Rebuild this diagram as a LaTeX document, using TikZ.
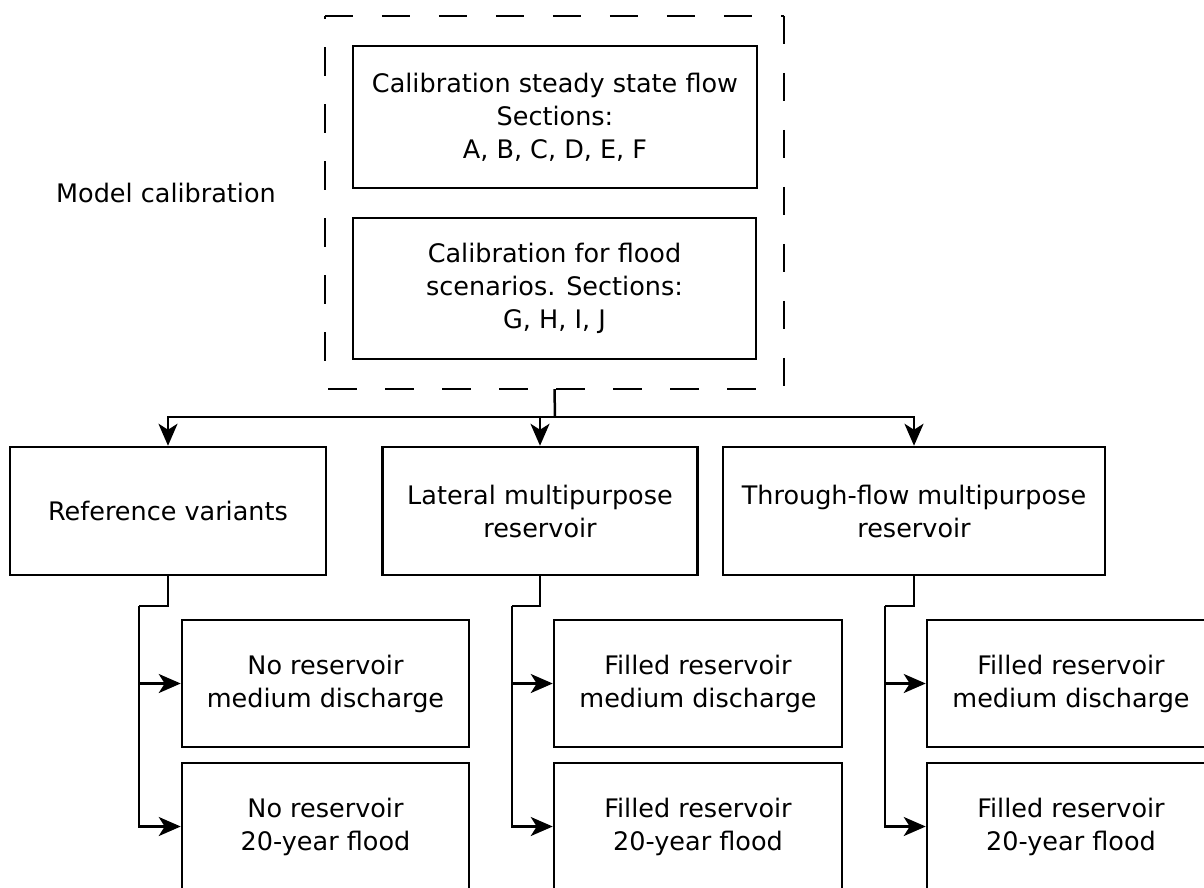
\documentclass[tikz,border=0pt]{standalone}
\usepackage{fontspec}
\setmainfont{DejaVu Sans}
\usetikzlibrary{arrows.meta,calc}
\begin{document}
\begin{tikzpicture}[x=1pt,y=-1pt,
  txt/.style={font=\fontsize{25.5}{33}\selectfont, align=center},
  box/.style={txt, draw=black, line width=2.5pt, inner sep=0pt},
  conn/.style={draw=black, line width=2.5pt},
  arr/.style={conn, -{Stealth[length=22pt,width=19pt,inset=6pt]}},
  dashline/.style={draw=black, line width=2.5pt, dash pattern=on 28.5pt off 28.5pt}
]
\useasboundingbox (0,0) rectangle (1204,887);
\clip (0,0) rectangle (1204,887);
\fill[white] (0,0) rectangle (1204,887);
% calibration group
\node[minimum width=459pt, minimum height=373pt, inner sep=0pt] (cal) at (554.5,202.5) {};
\draw[dashline] (cal.north west) -- (cal.north east);
\draw[dashline] (cal.north east) -- (cal.south east);
\draw[dashline, dash phase=28.5pt] (cal.south east) -- (cal.south west);
\draw[dashline, dash phase=28.5pt] (cal.south west) -- (cal.north west);
\node[box, minimum width=404pt, minimum height=142pt] (c1) at (555,117) {Calibration steady state flow\\Sections:\\A, B, C, D, E, F};
\node[box, minimum width=403pt, minimum height=141pt] (c2) at (554.5,288.5) {Calibration for flood\\scenarios. Sections:\\G, H, I, J};
\node[txt] (mc) at (166,193) {Model calibration};
% second row
\node[box, minimum width=316pt, minimum height=128pt] (ref) at (168,511) {Reference variants};
\node[box, minimum width=315pt, minimum height=128pt] (lat) at (540,511) {Lateral multipurpose\\reservoir};
\node[box, minimum width=382pt, minimum height=128pt] (thr) at (914,511) {Through-flow multipurpose\\reservoir};
% third row
\node[box, minimum width=287pt, minimum height=127pt] (r1) at (325.5,683.5) {No reservoir\\medium discharge};
\node[box, minimum width=287pt, minimum height=127pt] (r2) at (325.5,826.5) {No reservoir\\20-year flood};
\node[box, minimum width=288pt, minimum height=127pt] (l1) at (698,683.5) {Filled reservoir\\medium discharge};
\node[box, minimum width=288pt, minimum height=127pt] (l2) at (698,826.5) {Filled reservoir\\20-year flood};
\node[box, minimum width=288pt, minimum height=127pt] (t1) at (1071,683.5) {Filled reservoir\\medium discharge};
\node[box, minimum width=288pt, minimum height=127pt] (t2) at (1071,826.5) {Filled reservoir\\20-year flood};
% connectors
\coordinate (j) at (555,417);
\draw[conn] (cal.south) -- (j);
\draw[arr] (j) -| (ref.north);
\draw[arr] (j) -| (lat.north);
\draw[arr] (j) -| (thr.north);
\coordinate (rk) at (139,606);
\coordinate (lk) at (512,606);
\coordinate (tk) at (885,606);
\draw[conn] (ref.south) |- (rk);
\draw[conn] (lat.south) |- (lk);
\draw[conn] (thr.south) |- (tk);
\draw[arr] (rk) |- (r1.west);
\draw[arr] (rk) |- (r2.west);
\draw[arr] (lk) |- (l1.west);
\draw[arr] (lk) |- (l2.west);
\draw[arr] (tk) |- (t1.west);
\draw[arr] (tk) |- (t2.west);
\end{tikzpicture}
\end{document}
